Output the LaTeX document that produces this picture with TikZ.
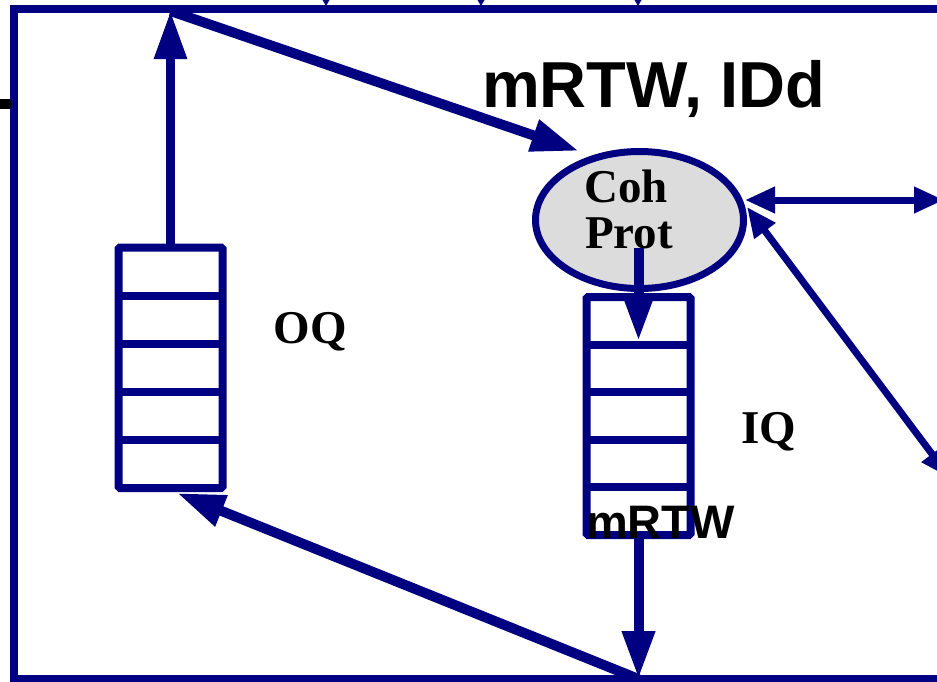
\documentclass[tikz,border=0pt]{standalone}
\usepackage{fontspec}
\setmainfont{Liberation Serif}
\newfontfamily\arialbold{Liberation Sans}[BoldFont={Liberation Sans Bold}]
\usetikzlibrary{arrows.meta,shapes.geometric}
\definecolor{navy}{HTML}{000080}
\definecolor{cpfill}{HTML}{DCDCDC}
\tikzset{
  frame/.style={draw=navy,line width=7.5pt,line cap=rect},
  queue/.style={draw=navy,line width=8pt,rectangle,inner sep=0pt,outer sep=0pt,rounded corners=1.5pt},
  bigarrow/.style={draw=navy,line width=10pt,-{Triangle[length=48pt,width=31pt]},color=navy},
  thinarrow/.style={draw=navy,line width=7pt,{Triangle[length=30pt,width=25pt]}-{Triangle[length=30pt,width=25pt]},color=navy},
  lbl/.style={font=\bfseries\fontsize{47}{50}\selectfont,inner sep=0pt,text=black},
  sanslbl/.style={font=\arialbold\bfseries,inner sep=0pt,text=black},
  toptip/.style={fill=navy}
}
\begin{document}
\begin{tikzpicture}[x=1pt,y=-1pt]
\useasboundingbox (0,0) rectangle (937,681);
% frame
\draw[frame] (960,9) -- (14,9) -- (14,679) -- (960,679);
\fill[black] (0,99) rectangle (11,109);
% small arrow tips from above
\foreach \xx/\nm in {326/ta,481/tb,638/tc} {
  \coordinate (\nm) at (\xx,6);
  \fill[toptip] (\xx-3.5,0) -- (\xx+3.5,0) -- (\nm) -- cycle;
}
% queues
\node[queue,minimum width=104pt,minimum height=240.5pt] (oq) at (170.5,367.75) {};
\foreach \yy in {295.6,343.7,391.8,440} \draw[navy,line width=8pt] (118.5,\yy) -- (222.5,\yy);
\node[queue,minimum width=104pt,minimum height=238pt] (iq) at (638.5,416) {};
\foreach \yy in {344.6,392.2,439.8,487.4} \draw[navy,line width=8pt] (586.5,\yy) -- (690.5,\yy);
% coherence protocol
\node[ellipse,draw=navy,fill=cpfill,line width=7pt,minimum width=208pt,minimum height=137pt,inner sep=0pt] (coh) at (639.5,220) {};
\node[lbl,anchor=base] (cohtxt) at (626,202) {Coh};
\node[lbl,anchor=base] (prottxt) at (629,248) {Prot};
% labels
\node[lbl,anchor=base] (oqtxt) at (310,343) {OQ};
\node[lbl,anchor=base] (iqtxt) at (769,443) {IQ};
\node[sanslbl,anchor=base west,font=\arialbold\bfseries\fontsize{65}{68}\selectfont] (title) at (482,107) {mRTW, IDd};
% coordinates
\coordinate (tl) at (170.5,11);
\coordinate (ctop) at (579,151);
\coordinate (cpin) at (638.5,248);
\coordinate (iqin) at (638.5,341);
\coordinate (bot) at (638.5,679);
\coordinate (oqbot) at (177,493);
\coordinate (eR) at (745,200);
\coordinate (eD) at (747,207);
\coordinate (rout) at (944,200);
\coordinate (dout) at (950,478);
% arrows
\draw[bigarrow,line width=9pt] (oq.north) -- (tl);
\draw[bigarrow] (tl) -- (ctop);
\draw[bigarrow] (cpin) -- (iqin);
\draw[bigarrow] (iq.south) -- (bot);
\draw[bigarrow] (bot) -- (oqbot);
\draw[thinarrow] (eR) -- (rout);
\draw[thinarrow] (eD) -- (dout);
\node[sanslbl,anchor=base west,font=\arialbold\bfseries\fontsize{47}{50}\selectfont] (mrtw) at (586,538) {mRTW};
\end{tikzpicture}
\end{document}
